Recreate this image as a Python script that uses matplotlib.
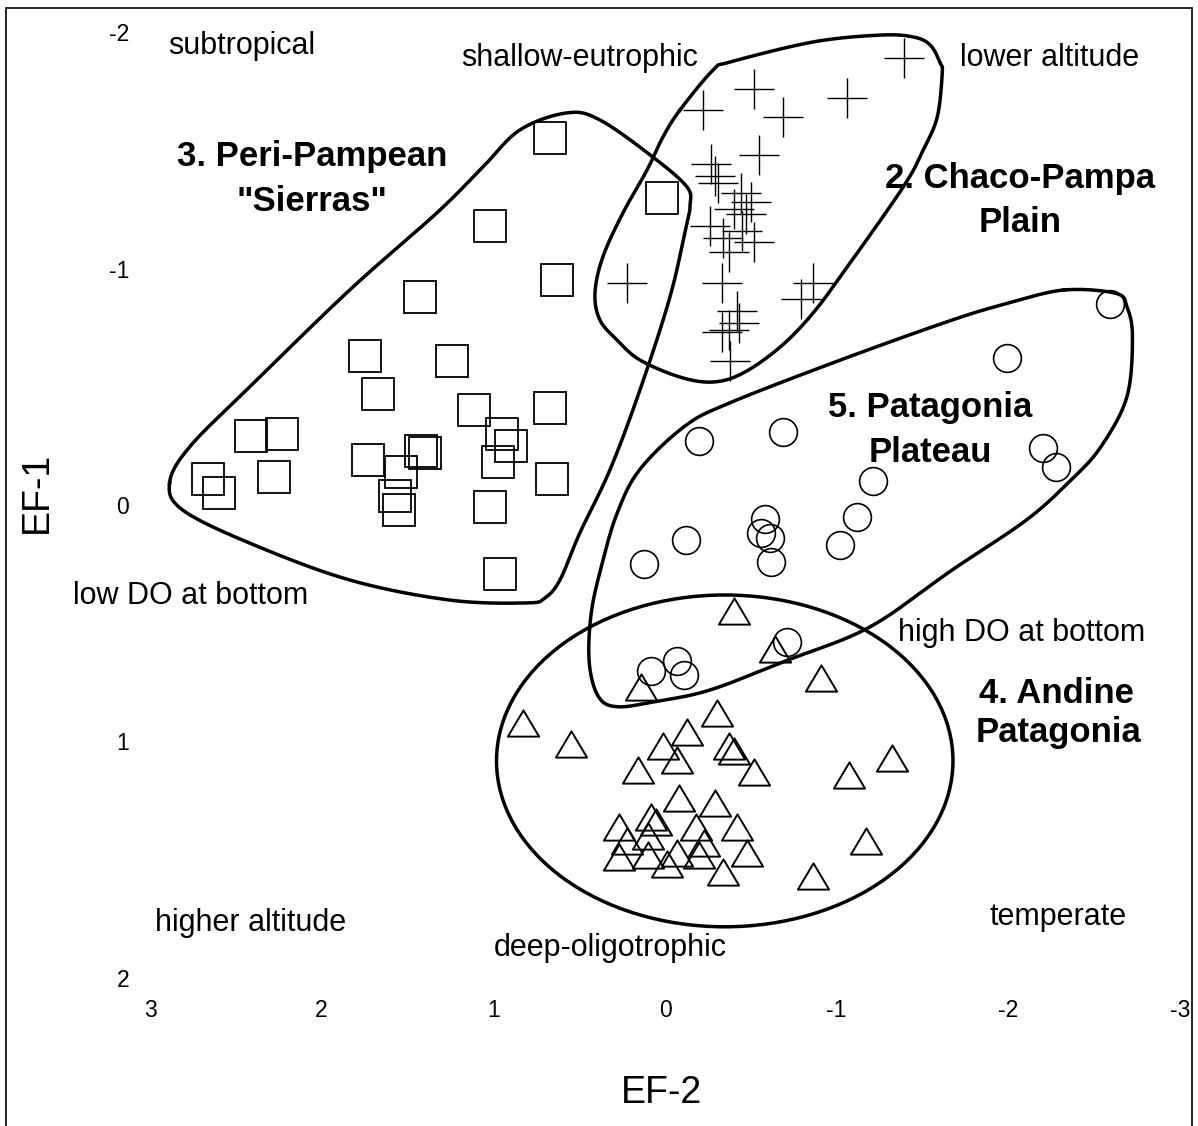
import numpy as np
import matplotlib.pyplot as plt
from matplotlib.patches import Ellipse, Rectangle
from matplotlib.path import Path

plt.rcParams["font.family"] = ["Liberation Sans", "DejaVu Sans"]

# --- site scores (EF-2, EF-1) by ecoregion ---
sierras_x = [0.67, 1.02, 0.63, 1.43, 1.75, 1.24, 1.67, 1.11, 0.67, 2.41, 2.23, 0.95, 1.42,
             1.40, 0.90, 1.73, 1.54, 0.97, 2.66, 2.60, 2.28, 1.57, 1.55, 0.66, 1.02, 0.96, 0.02]
sierras_y = [-1.55, -1.18, -0.95, -0.88, -0.63, -0.61, -0.47, -0.40, -0.41, -0.29, -0.30, -0.30, -0.23,
             -0.22, -0.25, -0.19, -0.14, -0.18, -0.11, -0.05, -0.12, -0.04, 0.02, -0.11, 0.01, 0.29, -1.30]

chaco_x = [-1.39, -0.52, -1.06, -0.22, -0.69, -0.55, -0.27, -0.29, -0.31, -0.44, -0.50, -0.40, -0.47, -0.26,
           -0.45, -0.34, -0.52, -0.37, 0.22, -0.33, -0.86, -0.79, -0.42, -0.43, -0.37, -0.33, -0.38]
chaco_y = [-1.89, -1.76, -1.72, -1.67, -1.64, -1.48, -1.44, -1.39, -1.36, -1.32, -1.28, -1.25, -1.23, -1.18,
           -1.16, -1.13, -1.11, -1.07, -0.94, -0.94, -0.94, -0.87, -0.82, -0.77, -0.74, -0.73, -0.61]

plateau_x = [-2.59, -1.99, -0.20, -0.69, -2.20, -2.28, -1.21, -1.12, -0.58, -0.56, -0.61, -0.12, -1.02,
             -0.62, 0.12, -0.71, -0.07, 0.08, -0.11]
plateau_y = [-0.85, -0.62, -0.27, -0.31, -0.24, -0.16, -0.10, 0.05, 0.06, 0.12, 0.14, 0.15, 0.17,
             0.24, 0.25, 0.58, 0.66, 0.70, 0.72]

andine_x = [-0.40, -0.64, -0.91, 0.14, 0.83, -0.30, 0.55, -0.13, 0.01, -0.37, -0.40, -0.07, 0.16, -0.52,
            -1.32, -1.07, -0.08, -0.29, 0.27, 0.08, 0.05, -0.18, -0.42, 0.22, 0.10, -0.23, -0.07, 0.27,
            0.10, -0.20, -0.48, -1.17, -0.01, -0.34, -0.86]
andine_y = [0.45, 0.61, 0.73, 0.77, 0.92, 0.88, 1.01, 0.96, 1.02, 1.02, 1.04, 1.08, 1.12, 1.13,
            1.07, 1.14, 1.24, 1.26, 1.36, 1.32, 1.34, 1.36, 1.36, 1.42, 1.40, 1.43, 1.47, 1.49,
            1.48, 1.48, 1.47, 1.42, 1.52, 1.55, 1.57]

ticks = [3, 2, 1, 0, -1, -2, -3]
yticks = [-2, -1, 0, 1, 2]

# --- hand-drawn group outlines ---
sierras_hull = [(2.886, -0.093), (2.770, -0.245), (2.420, -0.499), (1.837, -0.909), (1.329, -1.235),
                (1.061, -1.429), (0.845, -1.586), (0.571, -1.658), (0.379, -1.628), (0.070, -1.471),
                (-0.128, -1.345), (-0.146, -1.268), (-0.128, -1.192), (-0.029, -0.880), (0.146, -0.486),
                (0.321, -0.148), (0.496, 0.118), (0.612, 0.317), (0.700, 0.393), (0.805, 0.414),
                (1.254, 0.402), (1.837, 0.317), (2.420, 0.161), (2.810, 0.021)]
chaco_hull = [(-0.087, -1.670), (-0.280, -1.839), (-0.379, -1.873), (-0.863, -1.958), (-1.254, -1.987),
              (-1.446, -1.979), (-1.545, -1.945), (-1.603, -1.869), (-1.615, -1.827), (-1.586, -1.641),
              (-1.504, -1.501), (-1.388, -1.345), (-1.061, -1.006), (-0.863, -0.812), (-0.671, -0.668),
              (-0.455, -0.558), (-0.280, -0.520), (-0.087, -0.541), (0.146, -0.613), (0.280, -0.698),
              (0.379, -0.782), (0.408, -0.896), (0.362, -1.049), (0.245, -1.235), (0.105, -1.416),
              (0.012, -1.556)]
plateau_hull = [(-2.322, -0.909), (-2.626, -0.895), (-2.691, -0.838), (-2.723, -0.712), (-2.691, -0.458),
                (-2.540, -0.247), (-2.366, -0.106), (-2.106, 0.063), (-1.672, 0.275), (-1.195, 0.515),
                (-0.718, 0.655), (-0.263, 0.782), (0.062, 0.832), (0.279, 0.853), (0.387, 0.811),
                (0.441, 0.669), (0.430, 0.458), (0.366, 0.247), (0.279, 0.035), (0.149, -0.148),
                (-0.111, -0.331), (-0.371, -0.430), (-1.022, -0.613), (-1.672, -0.782), (-1.997, -0.853)]


def smooth_closed(pts, n=20):
    # closed Catmull-Rom curve through the outline points
    p = np.asarray(pts, dtype=float)
    m = len(p)
    t = np.linspace(0, 1, n, endpoint=False)[:, None]
    segs = []
    for i in range(m):
        p0, p1, p2, p3 = p[i - 1], p[i], p[(i + 1) % m], p[(i + 2) % m]
        segs.append(0.5 * (2 * p1 + (-p0 + p2) * t + (2 * p0 - 5 * p1 + 4 * p2 - p3) * t ** 2
                           + (-p0 + 3 * p1 - 3 * p2 + p3) * t ** 3))
    out = np.vstack(segs)
    return np.vstack([out, out[:1]])


fig = plt.figure(figsize=(11.98, 11.26), dpi=100)
ax = fig.add_axes([150 / 1198, 148 / 1126, 1030 / 1198, 946 / 1126])

# slightly flattened open triangle
tri = Path([(-1, -0.84), (1, -0.84), (0, 0.84), (-1, -0.84)],
           [Path.MOVETO, Path.LINETO, Path.LINETO, Path.CLOSEPOLY])

ax.plot(sierras_x, sierras_y, ls='none', marker='s', ms=22.5, mfc='none', mec='black', mew=1.3, clip_on=False)
ax.plot(chaco_x, chaco_y, ls='none', marker='+', ms=28.5, mec='black', mew=1.0, clip_on=False)
ax.plot(plateau_x, plateau_y, ls='none', marker='o', ms=20, mfc='none', mec='black', mew=1.2, clip_on=False)
ax.plot(andine_x, andine_y, ls='none', marker=tri, ms=22.5, mfc='none', mec='black', mew=1.4, clip_on=False)

for hull in [sierras_hull, chaco_hull, plateau_hull]:
    c = smooth_closed(hull)
    ax.plot(c[:, 0], c[:, 1], color='black', lw=2.5, clip_on=False)
ax.add_patch(Ellipse((-0.348, 1.082), 2.659, 1.403, fill=False, ec='black', lw=2.5, clip_on=False))

# axis-end annotations
small = dict(fontsize=22, ha='center', va='baseline')
ax.text(2.467, -1.907, 'subtropical', **small)
ax.text(0.496, -1.856, 'shallow-eutrophic', **small)
ax.text(-2.239, -1.856, 'lower altitude', **small)
ax.text(2.764, 0.419, 'low DO at bottom', **small)
ax.text(-2.076, 0.575, 'high DO at bottom', **small)
ax.text(2.414, 1.801, 'higher altitude', **small)
ax.text(-2.292, 1.776, 'temperate', **small)
ax.text(0.321, 1.907, 'deep-oligotrophic', **small)

big = dict(fontsize=25, fontweight='bold', ha='center', va='baseline')
ax.text(2.058, -1.433, '3. Peri-Pampean', **big)
ax.text(2.058, -1.243, '"Sierras"', **big)
ax.text(-2.070, -1.340, '2. Chaco-Pampa', **big)
ax.text(-2.070, -1.154, 'Plain', **big)
ax.text(-1.545, -0.372, '5. Patagonia', **big)
ax.text(-1.545, -0.182, 'Plateau', **big)
ax.text(-2.280, 0.837, '4. Andine', **big)
ax.text(-2.290, 1.002, 'Patagonia', **big)

ax.set_xlim(3, -3)
ax.set_ylim(2, -2)
ax.set_xticks(ticks)
ax.set_xticklabels([str(v) for v in ticks])
ax.set_yticks(yticks)
ax.set_yticklabels([str(v) for v in yticks])
ax.tick_params(axis='x', length=0, pad=15, labelsize=16.5)
ax.tick_params(axis='y', length=0, pad=15, labelsize=16.5)
for s in ax.spines.values():
    s.set_visible(False)
ax.patch.set_alpha(0)

fig.text(37 / 1198, 1 - 492 / 1126, 'EF-1', rotation=90, fontsize=27, ha='center', va='center')
fig.text(662 / 1198, 1 - 1093 / 1126, 'EF-2', fontsize=27, ha='center', va='center')

fig.add_artist(Rectangle((6 / 1198, -0.01), 1186 / 1198, 1.01 - 8 / 1126, transform=fig.transFigure,
                         fill=False, ec='black', lw=1.2))

fig.savefig('out.png', dpi=100)
